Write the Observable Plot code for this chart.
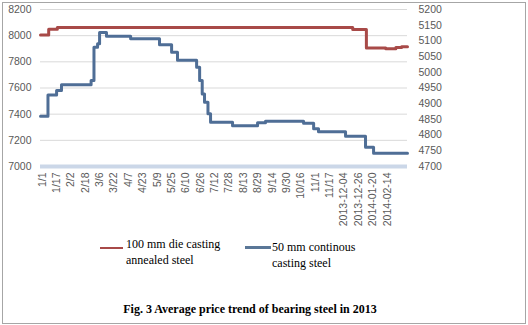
<!DOCTYPE html>
<html>
<head>
<meta charset="utf-8">
<script src="https://cdn.jsdelivr.net/npm/d3@7"></script>
<script src="https://cdn.jsdelivr.net/npm/@observablehq/plot@0.6"></script>
<style>
  html, body { margin: 0; padding: 0; background: #fff; }
  #wrap { position: relative; width: 528px; height: 325px; overflow: hidden; }
  #frame { position: absolute; left: 2px; top: 2px; width: 522px; height: 320px; border: 1px solid #a6a6a6; box-sizing: content-box; }
  #chart { position: absolute; left: 0; top: 0; }
  .leg { position: absolute; font-family: "Liberation Serif", serif; font-size: 12px; line-height: 16px; color: #000; }
  .sw { position: absolute; }
  #caption { position: absolute; left: 0; width: 500px; top: 302px; text-align: center; font-family: "Liberation Serif", serif; font-weight: bold; font-size: 12px; letter-spacing: 0px; color: #000; }
</style>
</head>
<body>
<div id="wrap">
  <div id="frame"></div>
  <div id="chart"></div>
  <div class="sw" style="left:100px; top:247px; width:23px; height:2px; background:#a84a48;"></div>
  <div class="leg" style="left:126px; top:236px;">100 mm die casting<br>annealed steel</div>
  <div class="sw" style="left:245px; top:246px; width:26px; height:3px; background:#5a7797;"></div>
  <div class="leg" style="left:272px; top:239px;">50 mm continous<br>casting steel</div>
  <div id="caption">Fig. 3 Average price trend of bearing steel in 2013</div>
</div>
<script>
// Category tick labels (one every label step)
const tickLabels = ["1/1","1/17","2/2","2/18","3/6","3/22","4/7","4/23","5/9","5/25","6/10","6/26","7/12","7/28","8/13","8/29","9/14","9/30","10/16","11/1","11/17","2013-12-04","2013-12-26","2014-01-20","2014-02-14"];

// 100 mm die casting annealed steel (left axis), position in label steps
const redPos = [-0.12, 0.45, 1.05, 21.6, 22.55, 23.9, 24.6, 25.0, 25.41];
const redVal = [8005, 8050, 8062, 8048, 7905, 7900, 7910, 7915, 7915];

// 50 mm continuous casting steel (right axis)
const bluePos = [-0.12, 0.4, 1.0, 1.34, 3.4, 3.6, 3.85, 3.99, 4.47, 6.15, 8.16, 9.0, 9.41, 10.74, 10.95, 11.13, 11.29, 11.53, 11.71, 13.24, 14.98, 15.53, 18.18, 18.88, 19.22, 21.1, 22.49, 23.05, 25.41];
const blueVal = [4860, 4928, 4942, 4960, 4974, 5080, 5091, 5127, 5115, 5107, 5088, 5064, 5038, 5016, 4974, 4931, 4905, 4868, 4841, 4830, 4839, 4844, 4838, 4820, 4811, 4796, 4761, 4742, 4742];

const leftTicks = [7000, 7200, 7400, 7600, 7800, 8000, 8200];
const rightTicks = [4700, 4750, 4800, 4850, 4900, 4950, 5000, 5050, 5100, 5150, 5200];

const red = redPos.map((p, i) => ({p, v: redVal[i]}));
const blue = bluePos.map((p, i) => ({p, v: blueVal[i]}));

// map right-axis values onto the left-axis scale
const toLeft = d3.scaleLinear().domain([4700, 5200]).range([7000, 8200]);

const chart = Plot.plot({
  width: 528,
  height: 232,
  marginLeft: 40,
  marginRight: 121,
  marginTop: 9,
  marginBottom: 66,
  style: { fontFamily: "Liberation Sans, sans-serif", fontSize: "10.5px", color: "#595959", background: "transparent" },
  x: { type: "linear", domain: [-0.12, 25.41] },
  y: { domain: [7000, 8200] },
  marks: [
    Plot.gridY(leftTicks.slice(1), { stroke: "#d9d9d9", strokeOpacity: 1 }),
    Plot.ruleY([7000], { stroke: "#cbd7e8", strokeWidth: 4 }),
    Plot.axisY(leftTicks, { anchor: "left", tickSize: 0, tickPadding: 9, label: null, fill: "#595959", tickFormat: d => String(d) }),
    Plot.axisY(rightTicks.map(v => toLeft(v)), { anchor: "right", tickSize: 0, tickPadding: 11, label: null, fill: "#595959", tickFormat: d => String(Math.round(toLeft.invert(d))) }),
    Plot.axisX(d3.range(tickLabels.length), { anchor: "bottom", tickSize: 0, tickPadding: 6, tickRotate: -90, label: null, fill: "#595959", tickFormat: i => tickLabels[i] }),
    Plot.line(red, { x: "p", y: "v", curve: "step-after", stroke: "#a84a48", strokeWidth: 3 }),
    Plot.line(blue, { x: "p", y: d => toLeft(d.v), curve: "step-after", stroke: "#4f6e96", strokeWidth: 3 })
  ]
});
document.getElementById("chart").appendChild(chart);
</script>
</body>
</html>
